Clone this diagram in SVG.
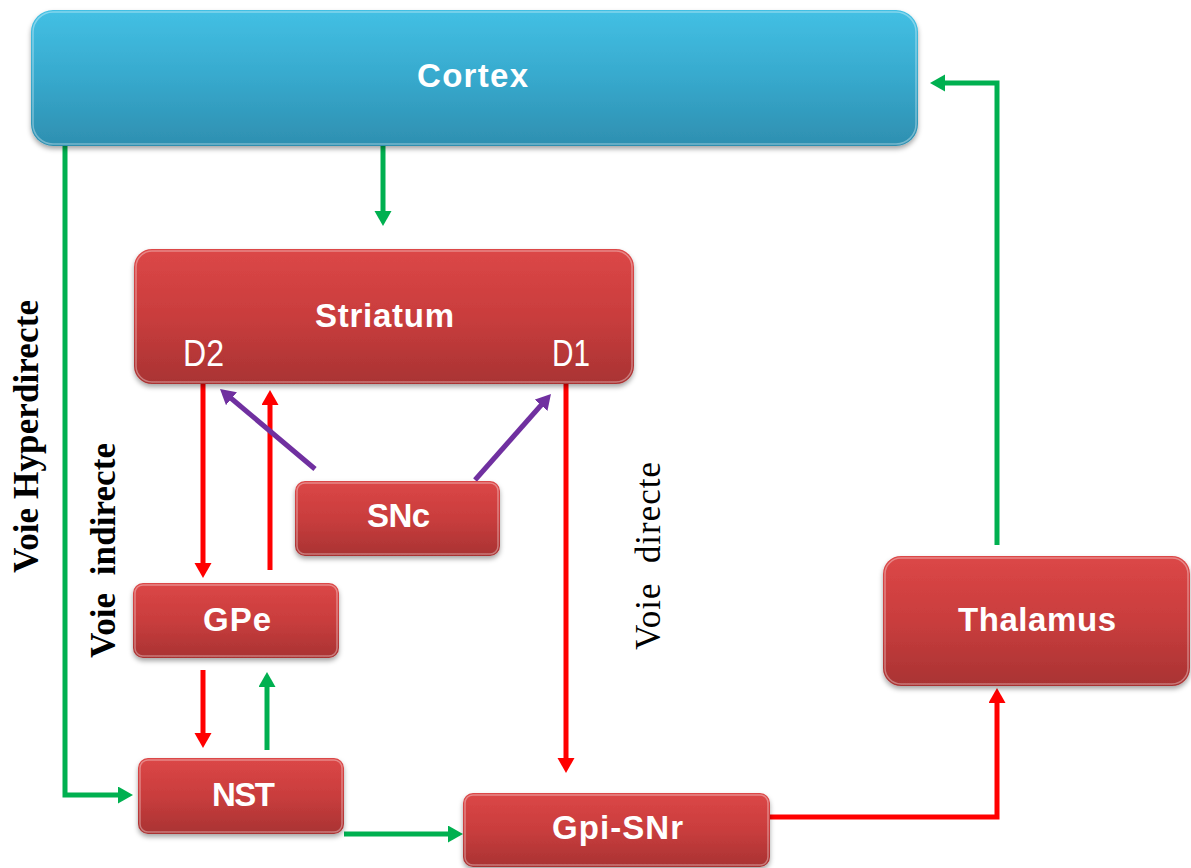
<svg xmlns="http://www.w3.org/2000/svg" width="1191" height="868" viewBox="0 0 1191 868">
<style>
.node-red{fill:url(#gRed);filter:url(#sh)}
.node-blue{fill:url(#gBlue);filter:url(#sh)}
.hl{fill:none;stroke:#ffffff;stroke-opacity:0.35;stroke-width:1.5}
.lbl{font-family:"Liberation Sans",Arial,sans-serif;font-weight:bold;fill:#ffffff;font-size:33px}
.sub{font-family:"Liberation Sans",Arial,sans-serif;font-weight:normal;fill:#ffffff;font-size:36px}
.voie{font-family:"Liberation Serif","Times New Roman",serif;fill:#000000;font-size:35px}
.g{fill:none;stroke:#00b050;stroke-width:5}
.r{fill:none;stroke:#ff0000;stroke-width:5}
.p{fill:none;stroke:#7030a0;stroke-width:5}
</style>
<defs>
<linearGradient id="gRed" x1="0" y1="0" x2="0" y2="1">
<stop offset="0" stop-color="#dc4747"/>
<stop offset="0.5" stop-color="#c93d3d"/>
<stop offset="1" stop-color="#a93333"/>
</linearGradient>
<linearGradient id="gBlue" x1="0" y1="0" x2="0" y2="1">
<stop offset="0" stop-color="#43c0e4"/>
<stop offset="0.5" stop-color="#37a9cd"/>
<stop offset="1" stop-color="#2e8fb0"/>
</linearGradient>
<filter id="sh" x="-5%" y="-10%" width="110%" height="130%">
<feDropShadow dx="0" dy="3" stdDeviation="2.5" flood-color="#000000" flood-opacity="0.35"/>
</filter>
<marker id="aG" markerUnits="userSpaceOnUse" markerWidth="16" markerHeight="18" refX="1" refY="8.5" orient="auto">
<path d="M0,0 L15,8.5 L0,17 z" fill="#00b050"/>
</marker>
<marker id="aR" markerUnits="userSpaceOnUse" markerWidth="16" markerHeight="18" refX="1" refY="8.5" orient="auto">
<path d="M0,0 L15,8.5 L0,17 z" fill="#ff0000"/>
</marker>
<marker id="aP" markerUnits="userSpaceOnUse" markerWidth="16" markerHeight="18" refX="1" refY="8.5" orient="auto">
<path d="M0,0 L15,8.5 L0,17 z" fill="#7030a0"/>
</marker>
</defs>
<rect width="1191" height="868" fill="#ffffff"/>

<g id="connectors">
<path class="g" d="M383,146 V212" marker-end="url(#aG)"/>
<path class="g" d="M65,146 V795 H119" marker-end="url(#aG)"/>
<path class="g" d="M997,545 V83 H944" marker-end="url(#aG)"/>
<path class="r" d="M203,384 V564" marker-end="url(#aR)"/>
<path class="r" d="M270,570 V404" marker-end="url(#aR)"/>
<path class="p" d="M315,469 L230.7,398" marker-end="url(#aP)"/>
<path class="p" d="M475,480 L541.7,404.5" marker-end="url(#aP)"/>
<path class="r" d="M566,384 V759" marker-end="url(#aR)"/>
<path class="r" d="M203,670 V734" marker-end="url(#aR)"/>
<path class="g" d="M267,750 V686" marker-end="url(#aG)"/>
<path class="g" d="M344,834 H449" marker-end="url(#aG)"/>
<path class="r" d="M770,817 H997 V702" marker-end="url(#aR)"/>
</g>

<g id="cortex">
<rect class="node-blue" x="31" y="10" width="887" height="136" rx="22"/>
<rect class="hl" x="33" y="12" width="883" height="132" rx="20"/>
<text class="lbl" x="417" y="87" font-size="34" textLength="111">Cortex</text>
</g>

<g id="striatum">
<rect class="node-red" x="134" y="249" width="500" height="135" rx="18"/>
<rect class="hl" x="136" y="251" width="496" height="131" rx="16"/>
<text class="lbl" x="315" y="327" textLength="139">Striatum</text>
<text class="sub" x="183" y="366" textLength="41" lengthAdjust="spacingAndGlyphs">D2</text>
<text class="sub" x="552" y="366" textLength="38" lengthAdjust="spacingAndGlyphs">D1</text>
</g>

<g id="snc">
<rect class="node-red" x="295" y="481" width="205" height="75" rx="10"/>
<rect class="hl" x="297" y="483" width="201" height="71" rx="8"/>
<text class="lbl" x="367" y="527" textLength="63">SNc</text>
</g>

<g id="gpe">
<rect class="node-red" x="133" y="583" width="206" height="75" rx="10"/>
<rect class="hl" x="135" y="585" width="202" height="71" rx="8"/>
<text class="lbl" x="203" y="631" textLength="68">GPe</text>
</g>

<g id="nst">
<rect class="node-red" x="138" y="758" width="206" height="76" rx="10"/>
<rect class="hl" x="140" y="760" width="202" height="72" rx="8"/>
<text class="lbl" x="212" y="806" textLength="63">NST</text>
</g>

<g id="gpi-snr">
<rect class="node-red" x="463" y="793" width="307" height="74" rx="10"/>
<rect class="hl" x="465" y="795" width="303" height="70" rx="8"/>
<text class="lbl" x="552" y="839" textLength="131">Gpi-SNr</text>
</g>

<g id="thalamus">
<rect class="node-red" x="883" y="556" width="307" height="130" rx="18"/>
<rect class="hl" x="885" y="558" width="303" height="126" rx="16"/>
<text class="lbl" x="958" y="631" textLength="158">Thalamus</text>
</g>

<g id="labels">
<text class="voie" font-weight="bold" transform="translate(38,573) rotate(-90)" textLength="273">Voie Hyperdirecte</text>
<text class="voie" font-weight="bold" transform="translate(115,658) rotate(-90)" textLength="215" xml:space="preserve">Voie  indirecte</text>
<text class="voie" transform="translate(660,650) rotate(-90)" textLength="188" xml:space="preserve">Voie  directe</text>
</g>
</svg>
